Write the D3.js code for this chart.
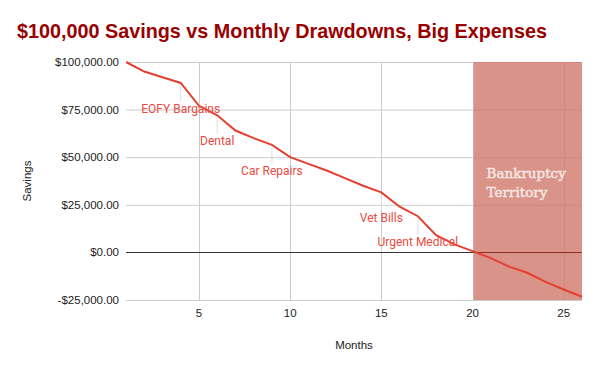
<!DOCTYPE html>
<html><head><meta charset="utf-8">
<script src="https://cdn.jsdelivr.net/npm/d3@7"></script>
<style>body{margin:0;background:#fff}svg{display:block}</style>
</head><body>
<script>
const months = [1,2,3,4,5,6,7,8,9,10,11,12,13,14,15,16,17,18,19,20,21,22,23,24,25,26];
const savings = [100000,95000,92000,89000,77000,72000,64000,60000,56500,50000,46500,43000,39000,35000,31500,24000,19000,9000,4200,700,-3000,-7500,-10700,-15500,-19500,-23300];
const annotationMonths = [4,6,9,15,17];
const annotationLabels = ["EOFY Bargains","Dental","Car Repairs","Vet Bills","Urgent Medical"];
const yTicks = [-25000,0,25000,50000,75000,100000];
const xTicks = [5,10,15,20,25];
const bandRange = [20,26];
const bandLabel = ["Bankruptcy","Territory"];
const title = "$100,000 Savings vs Monthly Drawdowns, Big Expenses";

const W=600,H=371;
const svg=d3.select("body").append("svg").attr("width",W).attr("height",H);
const x=d3.scaleLinear().domain([1,26]).range([126,582]);
const y=d3.scaleLinear().domain([-25000,100000]).range([300,62]);
const fmt=v=>(v<0?"-":"")+"$"+d3.format(",.2f")(Math.abs(v));

svg.append("text").attr("x",17).attr("y",38).text(title)
  .attr("font-family","Liberation Sans, Arial, sans-serif").attr("font-weight","bold")
  .attr("font-size",19.8).attr("fill","#990000");

// grid
const g=svg.append("g");
g.selectAll(".hg").data(yTicks.filter(d=>d!==0)).join("line")
  .attr("x1",x.range()[0]).attr("x2",x.range()[1])
  .attr("y1",d=>y(d)+0.5).attr("y2",d=>y(d)+0.5).attr("stroke","#cccccc");
g.selectAll(".vg").data(xTicks).join("line")
  .attr("x1",d=>Math.round(x(d))+0.5).attr("x2",d=>Math.round(x(d))+0.5)
  .attr("y1",y.range()[1]).attr("y2",y.range()[0]).attr("stroke","#cccccc");
g.append("line").attr("x1",x.range()[0]).attr("x2",x.range()[1])
  .attr("y1",Math.round(y(0))+0.5).attr("y2",Math.round(y(0))+0.5).attr("stroke","#333");

// y labels
svg.selectAll(".yl").data(yTicks).join("text")
  .attr("x",119).attr("y",d=>y(d)+4).attr("text-anchor","end")
  .attr("font-family","Liberation Sans, Arial, sans-serif").attr("font-size",11.5).attr("fill","#222")
  .text(fmt);
svg.selectAll(".xl").data(xTicks).join("text")
  .attr("x",d=>x(d)).attr("y",317).attr("text-anchor","middle")
  .attr("font-family","Liberation Sans, Arial, sans-serif").attr("font-size",11.5).attr("fill","#222")
  .text(d=>d);
svg.append("text").attr("x",354).attr("y",349).attr("text-anchor","middle")
  .attr("font-family","Liberation Sans, Arial, sans-serif").attr("font-size",11.5).attr("fill","#222").text("Months");
svg.append("text").attr("transform","translate(31,181) rotate(-90)").attr("text-anchor","middle")
  .attr("font-family","Liberation Sans, Arial, sans-serif").attr("font-size",11.5).attr("fill","#222").text("Savings");

// band (translucent overlay)
svg.append("rect").attr("x",x(bandRange[0])+1).attr("width",x(bandRange[1])-x(bandRange[0])-1)
  .attr("y",y.range()[1]).attr("height",y.range()[0]-y.range()[1])
  .attr("fill","rgb(207,120,106)").attr("fill-opacity",0.8);
svg.append("line").attr("x1",x(bandRange[0])+1).attr("x2",x(bandRange[1]))
  .attr("y1",Math.round(y(0))+0.5).attr("y2",Math.round(y(0))+0.5).attr("stroke","#8c2f22");
svg.selectAll(".bl").data(bandLabel).join("text")
  .attr("x",x(bandRange[0])+14).attr("y",(d,i)=>178+i*19)
  .attr("font-family","DejaVu Serif, Liberation Serif, serif")
  .attr("font-size",13.5).attr("fill","#f7e8e4")
  .attr("stroke","#f7e8e4").attr("stroke-width",0.45).text(d=>d);

// annotations
const ann=annotationMonths.map((m,i)=>({m,label:annotationLabels[i],v:savings[months.indexOf(m)]}));
svg.selectAll(".al").data(ann).join("line")
  .attr("x1",d=>x(d.m)).attr("x2",d=>x(d.m)).attr("y1",d=>y(d.v)+3).attr("y2",d=>y(d.v)+18)
  .attr("stroke","#dddddd");

// line
svg.append("path").datum(months.map((m,i)=>[m,savings[i]]))
  .attr("d",d3.line().x(d=>x(d[0])).y(d=>y(d[1])))
  .attr("fill","none").attr("stroke","#e53f31").attr("stroke-width",2);

svg.selectAll(".at").data(ann).join("text")
  .attr("x",d=>x(d.m)).attr("y",d=>y(d.v)+30).attr("text-anchor","middle")
  .attr("font-family","Roboto, sans-serif").attr("font-size",12).attr("fill","#ea4b3f").text(d=>d.label);
</script>
</body></html>
